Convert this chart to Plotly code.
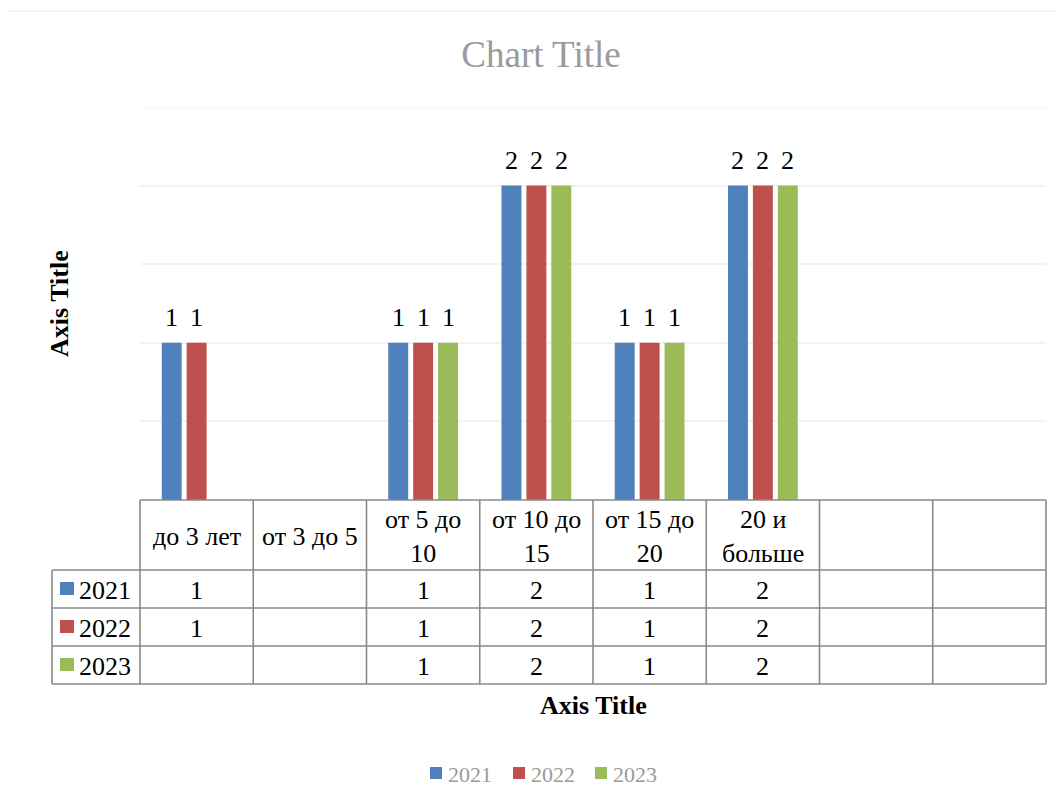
import plotly.graph_objects as go

categories = ["до 3 лет", "от 3 до 5", "от 5 до<br>10", "от 10 до<br>15", "от 15 до<br>20", "20 и<br>больше", "", ""]
series_names = ["2021", "2022", "2023"]
values_2021 = [1, None, 1, 2, 1, 2, None, None]
values_2022 = [1, None, 1, 2, 1, 2, None, None]
values_2023 = [None, None, 1, 2, 1, 2, None, None]
series_values = [values_2021, values_2022, values_2023]
colors = ["#4F81BD", "#C0504D", "#9BBB59"]

# page body has an 8px margin; figure starts at (8, 8)
OFF = 8
W, H = 1056, 795
FONT = "Liberation Serif, Times New Roman, serif"
FS = 26
BARGAP = 0.34
BARGROUPGAP = 0.2

def px(x):
    return (x - OFF) / W

def py(y):
    return 1 - (y - OFF) / H

# plot area in screen pixels
PL, PR, PT, PB = 140, 1046, 107, 500
TL = 52  # table left edge
ROW_Y = [500, 570, 608, 646, 684]

n = len(categories)
ns = len(series_names)
xs = list(range(n))
slot = (1 - BARGAP) / ns

fig = go.Figure()
annotations = []
for i, (name, vals, col) in enumerate(zip(series_names, series_values, colors)):
    fig.add_trace(go.Bar(
        x=xs, y=vals, name=name, marker_color=col, marker_line_width=0,
        showlegend=False, hoverinfo="x+y+name",
    ))
    # data labels above bars
    for k, v in enumerate(vals):
        if v is not None:
            annotations.append(dict(xref="x", yref="y", x=k + (i - (ns - 1) / 2) * slot, y=v,
                                    text=str(v), showarrow=False, xanchor="center", yanchor="middle",
                                    yshift=25, font=dict(family=FONT, size=FS, color="#000000")))

shapes = []
line_style = dict(color="#8a8a8a", width=1.6)

# chart border (faint)
shapes.append(dict(type="line", xref="paper", yref="paper", x0=px(7), x1=px(1064), y0=py(11), y1=py(11),
                   line=dict(color="#f0f0f0", width=1.5)))
shapes.append(dict(type="line", xref="paper", yref="paper", x0=px(7), x1=px(7), y0=py(11), y1=py(803),
                   line=dict(color="#f0f0f0", width=1.5)))

# top gridline (at axis max)
shapes.append(dict(type="line", xref="paper", yref="y", x0=px(PL), x1=px(PR), y0=2.5, y1=2.5,
                   line=dict(color="#f2f2f2", width=1.5), layer="below"))

cw = (PR - PL) / n
# horizontal table lines
shapes.append(dict(type="line", xref="paper", yref="paper", x0=px(PL), x1=px(PR), y0=py(ROW_Y[0]), y1=py(ROW_Y[0]), line=line_style))
for yy in ROW_Y[1:]:
    shapes.append(dict(type="line", xref="paper", yref="paper", x0=px(TL), x1=px(PR), y0=py(yy), y1=py(yy), line=line_style))
# vertical table lines
for k in range(n + 1):
    xx = PL + k * cw
    shapes.append(dict(type="line", xref="paper", yref="paper", x0=px(xx), x1=px(xx), y0=py(ROW_Y[0]), y1=py(ROW_Y[-1]), line=line_style))
shapes.append(dict(type="line", xref="paper", yref="paper", x0=px(TL), x1=px(TL), y0=py(ROW_Y[1]), y1=py(ROW_Y[-1]), line=line_style))

# header labels
for k, cat in enumerate(categories):
    if cat:
        annotations.append(dict(xref="paper", yref="paper", x=px(PL + (k + 0.5) * cw), y=py((ROW_Y[0] + ROW_Y[1]) / 2 + 1),
                                text=cat, showarrow=False, xanchor="center", yanchor="middle",
                                font=dict(family=FONT, size=FS, color="#000000")))

# rows
for r, (name, vals, col) in enumerate(zip(series_names, series_values, colors)):
    y0, y1 = ROW_Y[r + 1], ROW_Y[r + 2]
    ym = (y0 + y1) / 2
    shapes.append(dict(type="rect", xref="paper", yref="paper", x0=px(60), x1=px(74), y0=py(ym + 6), y1=py(ym - 7),
                       fillcolor=col, line=dict(width=0)))
    annotations.append(dict(xref="paper", yref="paper", x=px(77), y=py(ym + 1), text=name, showarrow=False,
                            xanchor="left", yanchor="middle", font=dict(family=FONT, size=FS, color="#000000")))
    for k, v in enumerate(vals):
        if v is not None:
            annotations.append(dict(xref="paper", yref="paper", x=px(PL + (k + 0.5) * cw), y=py(ym + 1),
                                    text=str(v), showarrow=False, xanchor="center", yanchor="middle",
                                    font=dict(family=FONT, size=FS, color="#000000")))

# custom legend at bottom
LEG_X = [430, 513, 595]
LEG_Y = 773
for lx, name, col in zip(LEG_X, series_names, colors):
    shapes.append(dict(type="rect", xref="paper", yref="paper", x0=px(lx), x1=px(lx + 12), y0=py(LEG_Y + 6), y1=py(LEG_Y - 6),
                       fillcolor=col, line=dict(width=0)))
    annotations.append(dict(xref="paper", yref="paper", x=px(lx + 16), y=py(LEG_Y + 1), text=name, showarrow=False,
                            xanchor="left", yanchor="middle", font=dict(family=FONT, size=22, color="#9a9a9a")))

# axis titles
annotations.append(dict(xref="paper", yref="paper", x=px((PL + PR) / 2), y=py(705), text="<b>Axis Title</b>",
                        showarrow=False, xanchor="center", yanchor="middle",
                        font=dict(family=FONT, size=FS, color="#000000")))
annotations.append(dict(xref="paper", yref="paper", x=px(60), y=py(304), text="<b>Axis Title</b>", textangle=-90,
                        showarrow=False, xanchor="center", yanchor="middle",
                        font=dict(family=FONT, size=FS, color="#000000")))

fig.update_layout(
    width=W, height=H,
    margin=dict(l=0, r=0, t=0, b=0),
    paper_bgcolor="white", plot_bgcolor="white",
    title=dict(text="Chart Title", x=px(541), xanchor="center", y=py(54), yanchor="middle",
               font=dict(family=FONT, size=37, color="#9a9a9a")),
    barmode="group", bargap=BARGAP, bargroupgap=BARGROUPGAP,
    showlegend=False,
    xaxis=dict(domain=[px(PL), px(PR)], range=[-0.5, n - 0.5], showticklabels=False, showgrid=False,
               zeroline=False, showline=False, ticks="", fixedrange=True),
    yaxis=dict(domain=[py(PB), py(PT)], range=[0, 2.5], dtick=0.5, showticklabels=False, showgrid=True,
               gridcolor="#f2f2f2", gridwidth=1.5, zeroline=False, showline=False, ticks="", fixedrange=True),
    shapes=shapes, annotations=annotations,
    font=dict(family=FONT),
)

fig.write_html("out.html")
